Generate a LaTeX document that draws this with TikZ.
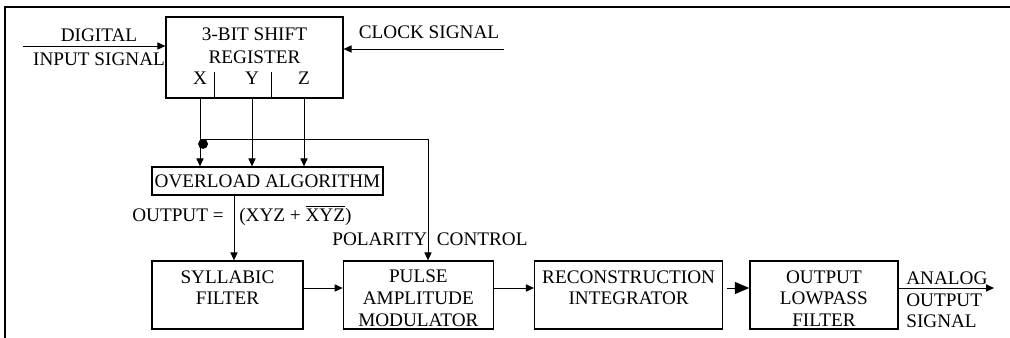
\documentclass[tikz,border=0pt]{standalone}
\usepackage{fontspec}
\setmainfont{Liberation Serif}
\usetikzlibrary{positioning, arrows.meta}
\newcommand{\rowtop}{\rule{0pt}{12pt}}

\begin{document}
\begin{tikzpicture}[
  x=0.625pt, y=-0.625pt,
  every node/.style={font=\fontsize{12}{14.5}\selectfont},
  blk/.style={draw, line width=0.8pt, align=center, inner sep=0pt,
              font=\fontsize{12}{13.5}\selectfont, minimum height=42.5pt},
  lbl/.style={inner sep=0pt},
  arr/.style={-{Triangle[length=5pt, width=4.5pt]}, line width=0.6pt},
  bigarr/.style={-{Triangle[length=9pt, width=7.5pt]}, line width=0.6pt},
]
\useasboundingbox (0,0) rectangle (1010,338);

%% ---- frame ----
\draw[line width=1.1pt] (5,338) -- (5,7) -- (1010,7);

%% ---- shift register with its inputs ----
\node[blk, font=\fontsize{12}{14.5}\selectfont,
      minimum width=110.6pt, minimum height=50.6pt] (reg) at (254.5,57.5)
    {3-BIT SHIFT\\REGISTER\\\mbox{}};

\node[lbl, anchor=base] (bitx) at (200,84.3) {X};
\node[lbl, anchor=base] (bity) at (252,84.3) {Y};
\node[lbl, anchor=base] (bitz) at (304,84.3) {Z};
\foreach \tx in {214,271}
  \draw[line width=0.6pt] (\tx,72) -- (\tx,98);

\node[lbl, align=center, font=\fontsize{12}{15}\selectfont] (dinlbl) at (99,47.5)
    {DIGITAL\\INPUT SIGNAL};
\coordinate (din) at (23,46);
\draw[arr] (din) -- (din -| reg.west);

\node[lbl, anchor=base] (clklbl) at (429,38.3) {CLOCK SIGNAL};
\coordinate (clk) at (504,49);
\draw[arr] (clk) -- (clk -| reg.east);

%% ---- overload algorithm ----
\node[blk, minimum width=144.4pt, minimum height=17.5pt] (ovl) at (267.5,181)
    {OVERLOAD ALGORITHM};

\foreach \b in {bitx,bity,bitz}
  \draw[arr] (\b |- reg.south) -- (\b |- ovl.north);

%% ---- bottom row ----
\coordinate (rowy) at (0,288);

\node[blk, minimum width=94.4pt] (syl) at (227.5,295)
    {\rowtop SYLLABIC\\FILTER\\\mbox{}};
\node[blk, minimum width=93.75pt, right=24.4pt of syl] (pam)
    {\rowtop PULSE\\AMPLITUDE\\MODULATOR};
\node[blk, minimum width=117.5pt, right=25pt of pam] (rec)
    {\rowtop RECONSTRUCTION\\INTEGRATOR\\\mbox{}};
\node[blk, minimum width=92.5pt, right=16.25pt of rec] (lpf)
    {\rowtop OUTPUT\\LOWPASS\\FILTER};

%% ---- overload output ----
\coordinate (sylin) at (234,0);
\draw[arr] (ovl.south -| sylin) -- (syl.north -| sylin);
\node[lbl, anchor=base east] (outeq) at (224,221.3) {OUTPUT =};
\node[lbl, anchor=base west] (outexpr) at (239,221.3)
    {(XYZ + $\overline{\mbox{XYZ}}$)};

%% ---- polarity control ----
\coordinate (polx) at (428,139);
\coordinate (pjoin) at (bitx |- polx);
\fill ([xshift=1.9pt, yshift=-3.1pt]pjoin) circle (3.1pt);
\draw[arr] (pjoin) -- (polx) -- (polx |- pam.north);
\node[lbl, anchor=base west] (pollbl) at (332,245.3) {POLARITY\enspace CONTROL};

%% ---- signal path ----
\draw[arr] (syl.east |- rowy) -- (pam.west |- rowy);
\draw[arr] (pam.east |- rowy) -- (rec.west |- rowy);
\draw[bigarr, shorten <=2.5pt] (rec.east |- rowy) -- (lpf.west |- rowy);

\coordinate (aout) at (994,288);
\draw[arr] (lpf.east |- rowy) -- (aout);
\node[lbl, align=left, anchor=west, font=\fontsize{12}{13.5}\selectfont]
    (outlbl) at (906,300) {ANALOG\\OUTPUT\\SIGNAL};

\end{tikzpicture}
\end{document}
